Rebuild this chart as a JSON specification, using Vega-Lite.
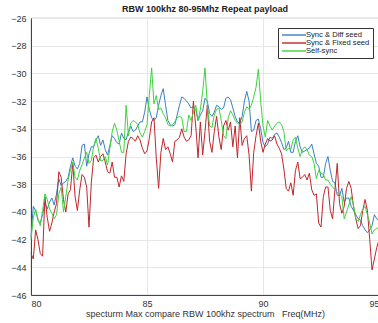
{
"$schema": "https://vega.github.io/schema/vega-lite/v6.json",
"width": 348, "height": 277,
"autosize": {"type": "none"},
"padding": {"left": 31, "top": 18, "right": 0, "bottom": 28},
"background": "white",
"title": {"text": "RBW 100khz 80-95Mhz Repeat payload", "fontSize": 9, "fontWeight": "bold", "font": "Liberation Sans", "color": "#222", "offset": 0},
"config": {
  "view": {"stroke": "#777", "strokeWidth": 0.8},
  "axis": {"labelFont": "Liberation Sans", "titleFont": "Liberation Sans", "labelFontSize": 9, "titleFontSize": 9, "titleFontWeight": "normal", "labelColor": "#333", "titleColor": "#333", "domainColor": "#444", "gridColor": "#e6e6e6", "tickSize": 0, "grid": true}
},
"datasets": {
"diff": [
{"f":80.0,"v":-41.8},{"f":80.1,"v":-39.6},{"f":80.2,"v":-39.9},{"f":80.3,"v":-40.6},{"f":80.4,"v":-40.8},{"f":80.5,"v":-40.2},{"f":80.6,"v":-39.3},{"f":80.7,"v":-39.8},{"f":80.8,"v":-39.3},{"f":80.9,"v":-39.0},
{"f":81.0,"v":-39.5},{"f":81.1,"v":-38.7},{"f":81.2,"v":-37.6},{"f":81.3,"v":-38.1},{"f":81.4,"v":-37.9},{"f":81.5,"v":-37.8},{"f":81.6,"v":-37.5},{"f":81.7,"v":-36.7},{"f":81.8,"v":-36.1},{"f":81.9,"v":-36.7},
{"f":82.0,"v":-36.9},{"f":82.1,"v":-36.5},{"f":82.2,"v":-35.2},{"f":82.3,"v":-35.1},{"f":82.4,"v":-36.7},{"f":82.5,"v":-35.8},{"f":82.6,"v":-35.3},{"f":82.7,"v":-35.3},{"f":82.8,"v":-34.8},{"f":82.9,"v":-34.5},
{"f":83.0,"v":-35.2},{"f":83.1,"v":-34.8},{"f":83.2,"v":-35.5},{"f":83.3,"v":-35.9},{"f":83.4,"v":-35.2},{"f":83.5,"v":-34.5},{"f":83.6,"v":-34.7},{"f":83.7,"v":-35.0},{"f":83.8,"v":-35.1},{"f":83.9,"v":-34.3},
{"f":84.0,"v":-34.7},{"f":84.1,"v":-34.8},{"f":84.2,"v":-34.2},{"f":84.3,"v":-33.8},{"f":84.4,"v":-34.2},{"f":84.5,"v":-34.1},{"f":84.6,"v":-33.8},{"f":84.7,"v":-33.5},{"f":84.8,"v":-33.5},{"f":84.9,"v":-32.8},
{"f":85.0,"v":-31.7},{"f":85.1,"v":-32.6},{"f":85.2,"v":-33.2},{"f":85.3,"v":-33.4},{"f":85.4,"v":-33.2},{"f":85.5,"v":-32.3},{"f":85.6,"v":-31.6},{"f":85.7,"v":-31.1},{"f":85.8,"v":-32.3},{"f":85.9,"v":-33.4},
{"f":86.0,"v":-33.7},{"f":86.1,"v":-33.8},{"f":86.2,"v":-33.7},{"f":86.3,"v":-33.0},{"f":86.4,"v":-32.3},{"f":86.5,"v":-31.7},{"f":86.6,"v":-31.8},{"f":86.7,"v":-32.0},{"f":86.8,"v":-32.2},{"f":86.9,"v":-32.5},
{"f":87.0,"v":-32.4},{"f":87.1,"v":-32.6},{"f":87.2,"v":-33.4},{"f":87.3,"v":-33.0},{"f":87.4,"v":-32.7},{"f":87.5,"v":-31.8},{"f":87.6,"v":-32.0},{"f":87.7,"v":-32.9},{"f":87.8,"v":-33.1},{"f":87.9,"v":-32.8},
{"f":88.0,"v":-32.3},{"f":88.1,"v":-32.4},{"f":88.2,"v":-32.6},{"f":88.3,"v":-32.5},{"f":88.4,"v":-31.8},{"f":88.5,"v":-31.7},{"f":88.6,"v":-31.9},{"f":88.7,"v":-32.5},{"f":88.8,"v":-33.1},{"f":88.9,"v":-33.5},
{"f":89.0,"v":-33.6},{"f":89.1,"v":-33.1},{"f":89.2,"v":-32.0},{"f":89.3,"v":-31.3},{"f":89.4,"v":-32.0},{"f":89.5,"v":-34.2},{"f":89.6,"v":-34.1},{"f":89.7,"v":-33.4},{"f":89.8,"v":-33.3},{"f":89.9,"v":-34.0},
{"f":90.0,"v":-35.0},{"f":90.1,"v":-35.3},{"f":90.2,"v":-35.1},{"f":90.3,"v":-34.6},{"f":90.4,"v":-34.7},{"f":90.5,"v":-34.4},{"f":90.6,"v":-34.3},{"f":90.7,"v":-34.6},{"f":90.8,"v":-35.0},{"f":90.9,"v":-35.5},
{"f":91.0,"v":-35.4},{"f":91.1,"v":-34.9},{"f":91.2,"v":-35.7},{"f":91.3,"v":-35.7},{"f":91.4,"v":-34.9},{"f":91.5,"v":-34.5},{"f":91.6,"v":-35.3},{"f":91.7,"v":-35.7},{"f":91.8,"v":-35.6},{"f":91.9,"v":-35.5},
{"f":92.0,"v":-35.4},{"f":92.1,"v":-35.1},{"f":92.2,"v":-35.8},{"f":92.3,"v":-36.5},{"f":92.4,"v":-36.7},{"f":92.5,"v":-37.5},{"f":92.6,"v":-37.5},{"f":92.7,"v":-36.5},{"f":92.8,"v":-36.0},{"f":92.9,"v":-37.0},
{"f":93.0,"v":-37.8},{"f":93.1,"v":-37.9},{"f":93.2,"v":-38.8},{"f":93.3,"v":-38.8},{"f":93.4,"v":-38.3},{"f":93.5,"v":-39.3},{"f":93.6,"v":-39.0},{"f":93.7,"v":-39.0},{"f":93.8,"v":-39.6},{"f":93.9,"v":-39.9},
{"f":94.0,"v":-40.2},{"f":94.1,"v":-40.5},{"f":94.2,"v":-40.6},{"f":94.3,"v":-41.0},{"f":94.4,"v":-41.3},{"f":94.5,"v":-41.5},{"f":94.6,"v":-41.3},{"f":94.7,"v":-41.0},{"f":94.8,"v":-40.2},{"f":94.9,"v":-40.5},
{"f":95.0,"v":-40.6}
],
"fixed": [
{"f":80.0,"v":-43.0},{"f":80.1,"v":-43.4},{"f":80.2,"v":-41.3},{"f":80.3,"v":-42.0},{"f":80.4,"v":-43.0},{"f":80.5,"v":-43.2},{"f":80.6,"v":-38.9},{"f":80.7,"v":-40.4},{"f":80.8,"v":-41.4},{"f":80.9,"v":-40.8},
{"f":81.0,"v":-40.0},{"f":81.1,"v":-39.4},{"f":81.2,"v":-37.1},{"f":81.3,"v":-37.5},{"f":81.4,"v":-39.1},{"f":81.5,"v":-40.0},{"f":81.6,"v":-38.7},{"f":81.7,"v":-38.4},{"f":81.8,"v":-36.5},{"f":81.9,"v":-38.9},
{"f":82.0,"v":-39.9},{"f":82.1,"v":-38.4},{"f":82.2,"v":-37.3},{"f":82.3,"v":-37.5},{"f":82.4,"v":-38.2},{"f":82.5,"v":-41.1},{"f":82.6,"v":-37.9},{"f":82.7,"v":-36.1},{"f":82.8,"v":-35.9},{"f":82.9,"v":-36.4},
{"f":83.0,"v":-36.0},{"f":83.1,"v":-35.8},{"f":83.2,"v":-36.4},{"f":83.3,"v":-37.1},{"f":83.4,"v":-37.2},{"f":83.5,"v":-36.4},{"f":83.6,"v":-37.5},{"f":83.7,"v":-37.5},{"f":83.8,"v":-38.2},{"f":83.9,"v":-37.4},
{"f":84.0,"v":-37.8},{"f":84.1,"v":-35.8},{"f":84.2,"v":-34.9},{"f":84.3,"v":-34.6},{"f":84.4,"v":-34.7},{"f":84.5,"v":-34.9},{"f":84.6,"v":-34.5},{"f":84.7,"v":-34.8},{"f":84.8,"v":-35.4},{"f":84.9,"v":-35.8},
{"f":85.0,"v":-35.6},{"f":85.1,"v":-34.7},{"f":85.2,"v":-33.5},{"f":85.3,"v":-33.2},{"f":85.4,"v":-36.1},{"f":85.5,"v":-38.3},{"f":85.6,"v":-35.7},{"f":85.7,"v":-34.7},{"f":85.8,"v":-35.5},{"f":85.9,"v":-35.3},
{"f":86.0,"v":-35.8},{"f":86.1,"v":-36.4},{"f":86.2,"v":-34.9},{"f":86.3,"v":-34.8},{"f":86.4,"v":-34.6},{"f":86.5,"v":-34.0},{"f":86.6,"v":-34.6},{"f":86.7,"v":-34.9},{"f":86.8,"v":-34.8},{"f":86.9,"v":-34.5},
{"f":87.0,"v":-32.0},{"f":87.1,"v":-33.8},{"f":87.2,"v":-36.1},{"f":87.3,"v":-33.5},{"f":87.4,"v":-35.9},{"f":87.5,"v":-34.2},{"f":87.6,"v":-32.3},{"f":87.7,"v":-34.9},{"f":87.8,"v":-35.7},{"f":87.9,"v":-34.2},
{"f":88.0,"v":-33.1},{"f":88.1,"v":-34.6},{"f":88.2,"v":-35.5},{"f":88.3,"v":-33.8},{"f":88.4,"v":-33.4},{"f":88.5,"v":-34.1},{"f":88.6,"v":-33.5},{"f":88.7,"v":-35.3},{"f":88.8,"v":-33.8},{"f":88.9,"v":-36.1},
{"f":89.0,"v":-33.2},{"f":89.1,"v":-35.2},{"f":89.2,"v":-34.7},{"f":89.3,"v":-34.5},{"f":89.4,"v":-35.9},{"f":89.5,"v":-38.5},{"f":89.6,"v":-35.7},{"f":89.7,"v":-34.5},{"f":89.8,"v":-33.6},{"f":89.9,"v":-34.9},
{"f":90.0,"v":-35.7},{"f":90.1,"v":-35.1},{"f":90.2,"v":-34.7},{"f":90.3,"v":-34.9},{"f":90.4,"v":-34.8},{"f":90.5,"v":-34.5},{"f":90.6,"v":-35.1},{"f":90.7,"v":-35.4},{"f":90.8,"v":-35.8},{"f":90.9,"v":-36.9},
{"f":91.0,"v":-38.3},{"f":91.1,"v":-38.5},{"f":91.2,"v":-37.9},{"f":91.3,"v":-38.8},{"f":91.4,"v":-37.0},{"f":91.5,"v":-36.4},{"f":91.6,"v":-37.6},{"f":91.7,"v":-37.5},{"f":91.8,"v":-37.3},{"f":91.9,"v":-37.7},
{"f":92.0,"v":-37.2},{"f":92.1,"v":-38.4},{"f":92.2,"v":-38.8},{"f":92.3,"v":-38.7},{"f":92.4,"v":-40.8},{"f":92.5,"v":-41.1},{"f":92.6,"v":-38.9},{"f":92.7,"v":-38.2},{"f":92.8,"v":-38.2},{"f":92.9,"v":-39.9},
{"f":93.0,"v":-40.5},{"f":93.1,"v":-38.4},{"f":93.2,"v":-36.5},{"f":93.3,"v":-39.4},{"f":93.4,"v":-40.1},{"f":93.5,"v":-39.6},{"f":93.6,"v":-38.3},{"f":93.7,"v":-37.8},{"f":93.8,"v":-38.3},{"f":93.9,"v":-39.6},
{"f":94.0,"v":-40.5},{"f":94.1,"v":-41.2},{"f":94.2,"v":-41.0},{"f":94.3,"v":-39.9},{"f":94.4,"v":-39.1},{"f":94.5,"v":-39.9},{"f":94.6,"v":-42.0},{"f":94.7,"v":-44.2},{"f":94.8,"v":-43.4},{"f":94.9,"v":-42.6},
{"f":95.0,"v":-42.0}
],
"self": [
{"f":80.0,"v":-42.0},{"f":80.1,"v":-40.4},{"f":80.2,"v":-39.8},{"f":80.3,"v":-40.5},{"f":80.4,"v":-41.0},{"f":80.5,"v":-39.9},{"f":80.6,"v":-38.7},{"f":80.7,"v":-39.1},{"f":80.8,"v":-39.8},{"f":80.9,"v":-40.1},
{"f":81.0,"v":-40.5},{"f":81.1,"v":-40.2},{"f":81.2,"v":-38.7},{"f":81.3,"v":-38.2},{"f":81.4,"v":-40.0},{"f":81.5,"v":-38.9},{"f":81.6,"v":-37.7},{"f":81.7,"v":-37.0},{"f":81.8,"v":-36.4},{"f":81.9,"v":-37.5},
{"f":82.0,"v":-37.7},{"f":82.1,"v":-37.0},{"f":82.2,"v":-36.6},{"f":82.3,"v":-36.1},{"f":82.4,"v":-35.7},{"f":82.5,"v":-36.5},{"f":82.6,"v":-36.3},{"f":82.7,"v":-35.3},{"f":82.8,"v":-34.7},{"f":82.9,"v":-35.4},
{"f":83.0,"v":-36.3},{"f":83.1,"v":-36.3},{"f":83.2,"v":-36.0},{"f":83.3,"v":-36.6},{"f":83.4,"v":-35.4},{"f":83.5,"v":-34.2},{"f":83.6,"v":-33.6},{"f":83.7,"v":-34.1},{"f":83.8,"v":-34.9},{"f":83.9,"v":-35.7},
{"f":84.0,"v":-35.7},{"f":84.1,"v":-32.3},{"f":84.2,"v":-34.5},{"f":84.3,"v":-33.6},{"f":84.4,"v":-33.4},{"f":84.5,"v":-33.5},{"f":84.6,"v":-33.7},{"f":84.7,"v":-34.3},{"f":84.8,"v":-34.6},{"f":84.9,"v":-34.2},
{"f":85.0,"v":-33.7},{"f":85.1,"v":-31.6},{"f":85.2,"v":-29.6},{"f":85.3,"v":-32.2},{"f":85.4,"v":-31.6},{"f":85.5,"v":-32.6},{"f":85.6,"v":-32.5},{"f":85.7,"v":-32.9},{"f":85.8,"v":-33.2},{"f":85.9,"v":-33.7},
{"f":86.0,"v":-33.8},{"f":86.1,"v":-33.7},{"f":86.2,"v":-33.5},{"f":86.3,"v":-33.2},{"f":86.4,"v":-33.1},{"f":86.5,"v":-33.2},{"f":86.6,"v":-34.2},{"f":86.7,"v":-34.2},{"f":86.8,"v":-33.0},{"f":86.9,"v":-33.4},
{"f":87.0,"v":-32.8},{"f":87.1,"v":-32.3},{"f":87.2,"v":-33.4},{"f":87.3,"v":-32.6},{"f":87.4,"v":-31.3},{"f":87.5,"v":-29.6},{"f":87.6,"v":-32.3},{"f":87.7,"v":-33.8},{"f":87.8,"v":-33.9},{"f":87.9,"v":-33.0},
{"f":88.0,"v":-32.6},{"f":88.1,"v":-32.5},{"f":88.2,"v":-33.4},{"f":88.3,"v":-34.5},{"f":88.4,"v":-34.7},{"f":88.5,"v":-33.2},{"f":88.6,"v":-32.7},{"f":88.7,"v":-33.0},{"f":88.8,"v":-33.4},{"f":88.9,"v":-33.6},
{"f":89.0,"v":-33.7},{"f":89.1,"v":-33.5},{"f":89.2,"v":-32.8},{"f":89.3,"v":-32.4},{"f":89.4,"v":-32.6},{"f":89.5,"v":-32.3},{"f":89.6,"v":-31.7},{"f":89.7,"v":-31.0},{"f":89.8,"v":-29.7},{"f":89.9,"v":-32.0},
{"f":90.0,"v":-33.8},{"f":90.1,"v":-34.6},{"f":90.2,"v":-33.4},{"f":90.3,"v":-33.8},{"f":90.4,"v":-34.1},{"f":90.5,"v":-33.8},{"f":90.6,"v":-33.6},{"f":90.7,"v":-33.5},{"f":90.8,"v":-33.7},{"f":90.9,"v":-34.2},
{"f":91.0,"v":-35.6},{"f":91.1,"v":-35.4},{"f":91.2,"v":-35.5},{"f":91.3,"v":-34.8},{"f":91.4,"v":-34.6},{"f":91.5,"v":-35.4},{"f":91.6,"v":-36.0},{"f":91.7,"v":-35.5},{"f":91.8,"v":-35.3},{"f":91.9,"v":-35.5},
{"f":92.0,"v":-35.9},{"f":92.1,"v":-36.0},{"f":92.2,"v":-36.5},{"f":92.3,"v":-37.6},{"f":92.4,"v":-37.0},{"f":92.5,"v":-37.2},{"f":92.6,"v":-37.3},{"f":92.7,"v":-37.7},{"f":92.8,"v":-37.7},{"f":92.9,"v":-38.0},
{"f":93.0,"v":-38.2},{"f":93.1,"v":-38.4},{"f":93.2,"v":-38.6},{"f":93.3,"v":-38.7},{"f":93.4,"v":-38.9},{"f":93.5,"v":-40.5},{"f":93.6,"v":-40.0},{"f":93.7,"v":-39.5},{"f":93.8,"v":-38.9},{"f":93.9,"v":-39.5},
{"f":94.0,"v":-40.5},{"f":94.1,"v":-40.7},{"f":94.2,"v":-40.2},{"f":94.3,"v":-39.8},{"f":94.4,"v":-39.6},{"f":94.5,"v":-40.2},{"f":94.6,"v":-40.8},{"f":94.7,"v":-41.6},{"f":94.8,"v":-41.3},{"f":94.9,"v":-41.2},
{"f":95.0,"v":-41.1}
]
},
"encoding": {
  "x": {"field": "f", "type": "quantitative", "scale": {"domain": [80, 95], "nice": false},
        "axis": {"values": [80, 85, 90, 95], "title": "specturm Max compare RBW 100khz spectrum\u00a0\u00a0 Freq(MHz)", "labelPadding": 4, "titlePadding": 1}},
  "y": {"field": "v", "type": "quantitative", "scale": {"domain": [-46, -26], "nice": false},
        "axis": {"values": [-46, -44, -42, -40, -38, -36, -34, -32, -30, -28, -26], "title": null, "labelPadding": 5}}
},
"layer": [
  {"data": {"name": "diff"}, "mark": {"type": "line", "strokeWidth": 1},
   "encoding": {"color": {"datum": "Sync & Diff seed", "type": "nominal",
      "scale": {"domain": ["Sync & Diff seed", "Sync & Fixed seed", "Self-sync"], "range": ["#3b7fc1", "#c0262c", "#3dd33d"]},
      "legend": {"orient": "none", "legendX": 247, "legendY": 10, "title": null, "symbolType": "M-1,0H7", "symbolSize": 36, "symbolStrokeWidth": 1.4, "labelFontSize": 7.6, "labelFont": "Liberation Sans", "labelColor": "#222", "strokeColor": "#333", "fillColor": "white", "padding": 3, "rowPadding": -1, "labelOffset": 17}}}},
  {"data": {"name": "fixed"}, "mark": {"type": "line", "strokeWidth": 1},
   "encoding": {"color": {"datum": "Sync & Fixed seed", "type": "nominal"}}},
  {"data": {"name": "self"}, "mark": {"type": "line", "strokeWidth": 1},
   "encoding": {"color": {"datum": "Self-sync", "type": "nominal"}}}
]
}
